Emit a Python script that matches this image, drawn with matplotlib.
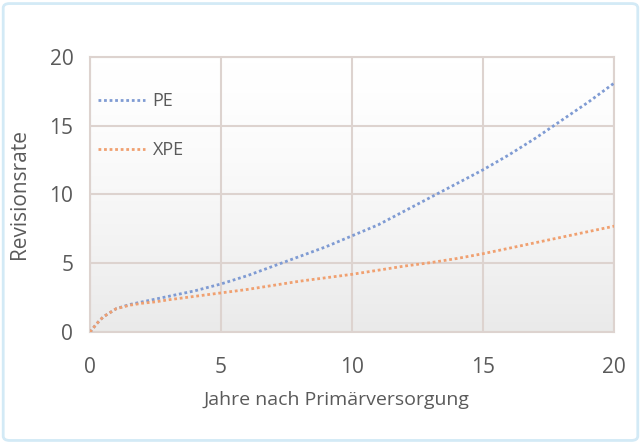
import numpy as np
import matplotlib
matplotlib.use("Agg")
import matplotlib.pyplot as plt
from matplotlib.patches import FancyBboxPatch

# data
years = [0, 0.25, 0.5, 1, 1.5, 2, 2.5, 3, 4, 5, 6, 7, 8, 9, 10, 11, 12, 13, 14, 15, 16, 17, 18, 19, 20]
pe = [0, 0.6, 1.1, 1.7, 2.0, 2.2, 2.4, 2.6, 3.0, 3.5, 4.1, 4.8, 5.5, 6.2, 7.0, 7.8, 8.8, 9.8, 10.8, 11.8, 12.9, 14.1, 15.4, 16.7, 18.1]
xpe = [0, 0.6, 1.1, 1.7, 1.95, 2.1, 2.2, 2.35, 2.6, 2.85, 3.1, 3.4, 3.7, 3.95, 4.2, 4.5, 4.8, 5.05, 5.35, 5.7, 6.1, 6.5, 6.9, 7.3, 7.7]
x_ticks = [0, 5, 10, 15, 20]
y_ticks = [0, 5, 10, 15, 20]

plt.rcParams['font.family'] = ['Open Sans', 'DejaVu Sans']
text_col = '#5a5a5a'
grid_col = '#ddd3cf'

fig = plt.figure(figsize=(6.41, 4.44), dpi=100)
fig.patch.set_facecolor('white')

# light blue frame around the whole chart
frame = FancyBboxPatch((0.005, 0.008), 0.99, 0.984, boxstyle='round,pad=0,rounding_size=0.01',
                       transform=fig.transFigure, facecolor='none', edgecolor='#d3eaf6', linewidth=2)
fig.patches.append(frame)

ax = fig.add_axes([0.1404, 0.252, 0.818, 0.620])

# faint white-to-grey background in the plot area
grad = np.linspace(0, 1, 256) ** 1.5
grad = grad.reshape(-1, 1)
ax.imshow(grad, cmap=matplotlib.colors.LinearSegmentedColormap.from_list('bg', ['#ffffff', '#eaeaea']),
          extent=[0, 1, 0, 1], transform=ax.transAxes, aspect='auto', zorder=0, vmin=0, vmax=1, origin='upper')

ax.plot(years, pe, linestyle=(0, (1, 1)), color='#7f9bd3', linewidth=2, label='PE', zorder=3)
ax.plot(years, xpe, linestyle=(0, (1, 1)), color='#f0a070', linewidth=2, label='XPE', zorder=3)

ax.set_xlim(0, 20)
ax.set_ylim(0, 20)
ax.set_xticks(x_ticks)
ax.set_yticks(y_ticks)
ax.grid(True, color=grid_col, linewidth=1.5, zorder=1)
ax.set_axisbelow(True)
for s in ax.spines.values():
    s.set_color(grid_col)
    s.set_linewidth(1.5)
ax.tick_params(length=0, labelsize=15, colors=text_col)
ax.tick_params(axis='x', pad=18)
ax.tick_params(axis='y', pad=12)

ax.set_xlabel('Jahre nach Primärversorgung', fontsize=14, color=text_col)
ax.xaxis.set_label_coords(0.47, -0.215)
ax.set_ylabel('Revisionsrate', fontsize=15, color=text_col, labelpad=14)

leg = ax.legend(loc='upper left', bbox_to_anchor=(-0.015, 0.93), frameon=False, fontsize=13,
                handlelength=2.6, handletextpad=0.4, labelspacing=1.7, labelcolor=text_col)

fig.savefig('out.png', dpi=100)
